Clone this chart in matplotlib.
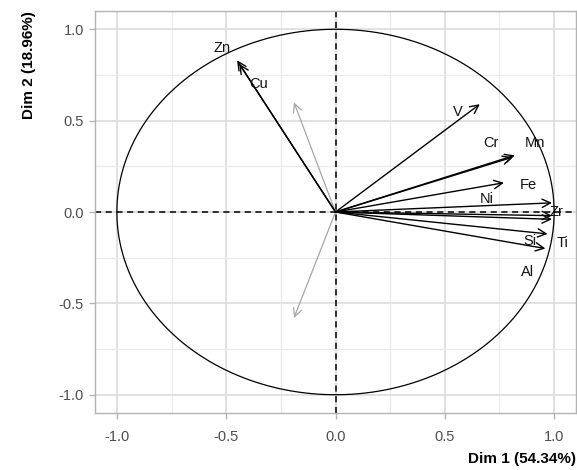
import numpy as np
import matplotlib
matplotlib.use("Agg")
import matplotlib.pyplot as plt

plt.rcParams['font.family'] = ['Liberation Sans', 'DejaVu Sans']

# Active variables (coordinates on Dim 1 / Dim 2)
var_names = ["Zn", "Cu", "V", "Cr", "Mn", "Fe", "Ni", "Zr", "Ti", "Si", "Al"]
dim1 = [-0.45, -0.44, 0.66, 0.82, 0.81, 0.77, 0.99, 0.99, 0.99, 0.97, 0.96]
dim2 = [0.83, 0.81, 0.59, 0.31, 0.30, 0.16, 0.05, -0.02, -0.04, -0.12, -0.20]

# Supplementary (grey) variables
sup_dim1 = [-0.19, -0.19]
sup_dim2 = [0.60, -0.58]

# Label offsets (in data units) from arrow tips
label_offsets = {
    "Zn": (-0.07, 0.07), "Cu": (0.09, -0.11), "V": (-0.10, -0.04),
    "Cr": (-0.11, 0.07), "Mn": (0.10, 0.08), "Fe": (0.11, -0.01),
    "Ni": (-0.30, 0.02), "Zr": (0.02, 0.02), "Ti": (0.05, -0.13),
    "Si": (-0.08, -0.04), "Al": (-0.08, -0.13),
}

x_label = "Dim 1 (54.34%)"
y_label = "Dim 2 (18.96%)"

fig = plt.figure(figsize=(5.77, 4.70), dpi=100)
ax = fig.add_axes([95/577, 57/470, 481/577, 402/470])

grid_major = "#DCDCDC"
grid_minor = "#EAEAEA"
ax.set_xlim(-1.1, 1.1)
ax.set_ylim(-1.1, 1.1)
ticks = [-1.0, -0.5, 0.0, 0.5, 1.0]
ax.set_xticks(ticks)
ax.set_yticks(ticks)
ax.set_xticklabels([f"{t:.1f}" for t in ticks])
ax.set_yticklabels([f"{t:.1f}" for t in ticks])
ax.set_xticks([-0.75, -0.25, 0.25, 0.75], minor=True)
ax.set_yticks([-0.75, -0.25, 0.25, 0.75], minor=True)
ax.grid(which="major", color=grid_major, lw=1.2, zorder=0)
ax.grid(which="minor", color=grid_minor, lw=0.9, zorder=0)
ax.set_axisbelow(True)
for s in ax.spines.values():
    s.set_color("#B3B3B3")
    s.set_linewidth(1.0)
ax.tick_params(which="major", color="#B3B3B3", length=4, width=1.0,
               labelcolor="#4D4D4D", labelsize=10.5, pad=4)
ax.tick_params(axis="x", which="major", pad=8)
ax.tick_params(which="minor", length=0)

# circle
theta = np.linspace(0, 2*np.pi, 400)
ax.plot(np.cos(theta), np.sin(theta), color="black", lw=0.9, zorder=2)
ax.axhline(0, color="black", ls=(0, (4, 3)), lw=1.1, zorder=2)
ax.axvline(0, color="black", ls=(0, (4, 3)), lw=1.1, zorder=2)

astyle = "->,head_length=0.6,head_width=0.3"
for x, y in zip(sup_dim1, sup_dim2):
    ax.annotate("", xy=(x, y), xytext=(0, 0),
                arrowprops=dict(arrowstyle=astyle, color="#A6A6A6", lw=0.9,
                                shrinkA=0, shrinkB=0), zorder=3)

for n, x, y in zip(var_names, dim1, dim2):
    ax.annotate("", xy=(x, y), xytext=(0, 0),
                arrowprops=dict(arrowstyle=astyle, color="black", lw=1.0,
                                shrinkA=0, shrinkB=0), zorder=4)
    dx, dy = label_offsets[n]
    ax.text(x + dx, y + dy, n, ha="center", va="center", fontsize=10.5,
            color="#111111", zorder=5)

ax.set_xlabel(x_label, fontsize=11, fontweight="bold", loc="right", labelpad=6)
ax.set_ylabel(y_label, fontsize=11, fontweight="bold", loc="top", labelpad=16)

fig.savefig("out.png", dpi=100)
